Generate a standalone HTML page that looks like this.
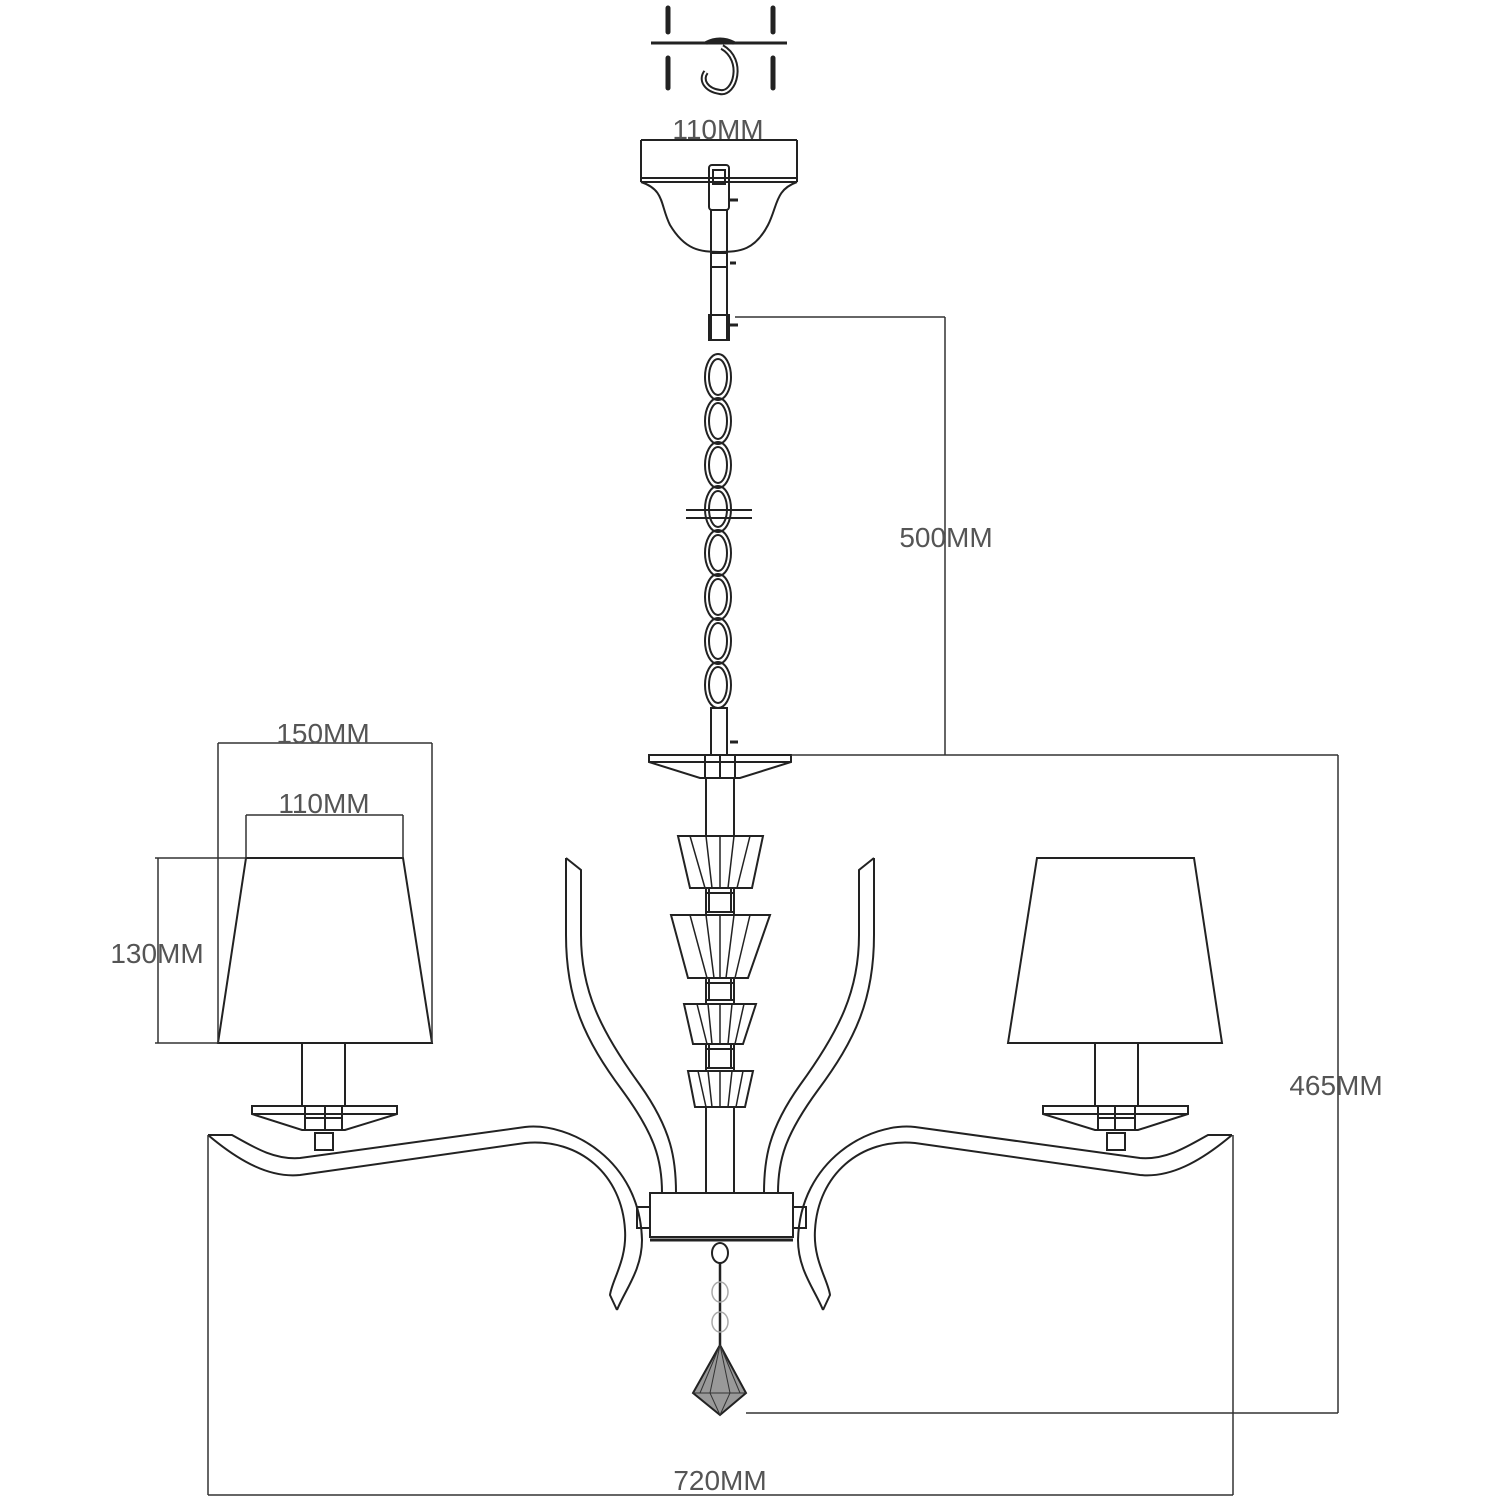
<!DOCTYPE html>
<html><head><style>html,body{margin:0;padding:0;background:#fff}svg{display:block}</style></head>
<body>
<svg width="1500" height="1500" viewBox="0 0 1500 1500" xmlns="http://www.w3.org/2000/svg">
<rect width="1500" height="1500" fill="#fff"/>
<g fill="none" stroke="#222" stroke-width="2">
<!-- screws -->
<g stroke-width="5" stroke-linecap="round">
<line x1="668" y1="8" x2="668" y2="32"/><line x1="773" y1="8" x2="773" y2="32"/>
<line x1="668" y1="58" x2="668" y2="88"/><line x1="773" y1="58" x2="773" y2="88"/>
</g>
<line x1="651" y1="43" x2="787" y2="43" stroke-width="3"/>
<path d="M706,43 Q720,36 734,43" stroke-width="4"/>
<path d="M722,47 C745,60 735,95 720,92 C706,90 700,80 706,72" stroke-width="6"/>
<path d="M722,47 C745,60 735,95 720,92 C706,90 700,80 706,72" stroke="#fff" stroke-width="2"/>
<!-- canopy -->
<line x1="641" y1="140" x2="797" y2="140"/>
<line x1="641" y1="140" x2="641" y2="182"/><line x1="797" y1="140" x2="797" y2="182"/>
<line x1="641" y1="178" x2="797" y2="178"/><line x1="641" y1="182" x2="797" y2="182"/>
<path d="M641,182 C665,190 660,205 670,225 C685,250 700,252 720,252 C740,252 755,250 768,225 C778,205 775,190 797,182"/>
<!-- stem top -->
<rect x="709" y="165" width="20" height="45" rx="3"/>
<rect x="713" y="170" width="12" height="14"/>
<line x1="711" y1="210" x2="711" y2="340"/><line x1="727" y1="210" x2="727" y2="340"/>
<rect x="711" y="253" width="16" height="14"/>
<rect x="709" y="315" width="20" height="25"/>
<g stroke-width="3"><line x1="730" y1="200" x2="738" y2="200"/><line x1="730" y1="263" x2="736" y2="263"/><line x1="730" y1="325" x2="738" y2="325"/><line x1="730" y1="742" x2="738" y2="742"/></g>
<!-- chain -->
<g stroke-width="2">
<ellipse cx="718" cy="377" rx="13" ry="23"/><ellipse cx="718" cy="377" rx="9" ry="18"/>
<ellipse cx="718" cy="421" rx="13" ry="23"/><ellipse cx="718" cy="421" rx="9" ry="18"/>
<ellipse cx="718" cy="465" rx="13" ry="23"/><ellipse cx="718" cy="465" rx="9" ry="18"/>
<ellipse cx="718" cy="509" rx="13" ry="23"/><ellipse cx="718" cy="509" rx="9" ry="18"/>
<ellipse cx="718" cy="553" rx="13" ry="23"/><ellipse cx="718" cy="553" rx="9" ry="18"/>
<ellipse cx="718" cy="597" rx="13" ry="23"/><ellipse cx="718" cy="597" rx="9" ry="18"/>
<ellipse cx="718" cy="641" rx="13" ry="23"/><ellipse cx="718" cy="641" rx="9" ry="18"/>
<ellipse cx="718" cy="685" rx="13" ry="23"/><ellipse cx="718" cy="685" rx="9" ry="18"/>
</g>
<line x1="686" y1="510" x2="752" y2="510"/><line x1="686" y1="518" x2="752" y2="518"/>
<rect x="711" y="708" width="16" height="47"/>
<!-- plate -->
<path d="M649,755 L791,755 L791,762 L740,778 L700,778 L649,762 Z"/>
<line x1="649" y1="762" x2="791" y2="762"/>
<line x1="705" y1="755" x2="705" y2="778"/><line x1="735" y1="755" x2="735" y2="778"/><line x1="720" y1="755" x2="720" y2="778"/>
<!-- stem lower -->
<line x1="706" y1="778" x2="706" y2="1193"/><line x1="734" y1="778" x2="734" y2="1193"/>
<!-- crystals -->
<g fill="#fff">
<path d="M678,836 L763,836 L752,888 L690,888 Z"/>
<path d="M671,915 L770,915 L748,978 L688,978 Z"/>
<path d="M684,1004 L756,1004 L743,1044 L693,1044 Z"/>
<path d="M688,1071 L753,1071 L745,1107 L695,1107 Z"/>
</g>
<g stroke-width="1.5">
<path d="M690,836 L705,888 M706,836 L712,888 M720,836 L720,888 M734,836 L728,888 M750,836 L737,888"/>
<path d="M690,915 L707,978 M706,915 L714,978 M720,915 L720,978 M734,915 L726,978 M750,915 L735,978"/>
<path d="M697,1004 L707,1044 M708,1004 L712,1044 M720,1004 L720,1044 M732,1004 L728,1044 M744,1004 L735,1044"/>
<path d="M698,1071 L706,1107 M708,1071 L712,1107 M720,1071 L720,1107 M732,1071 L728,1107 M743,1071 L736,1107"/>
</g>
<path d="M709,888 L709,912 M731,888 L731,912 M707,893 L733,893 M707,912 L733,912"/>
<path d="M709,978 L709,1000 M731,978 L731,1000 M707,983 L733,983 M707,1000 L733,1000"/>
<path d="M709,1044 L709,1068 M731,1044 L731,1068 M707,1049 L733,1049 M707,1068 L733,1068"/>
<!-- body -->
<rect x="650" y="1193" width="143" height="44" fill="#fff"/>
<line x1="650" y1="1240" x2="793" y2="1240" stroke-width="3"/>
<rect x="637" y="1207" width="13" height="21"/><rect x="793" y="1207" width="13" height="21"/>
<!-- pendant -->
<ellipse cx="720" cy="1253" rx="8" ry="10"/>
<line x1="720" y1="1263" x2="720" y2="1345" stroke-width="2.5"/>
<ellipse cx="720" cy="1292" rx="8" ry="10" stroke="#aaa" stroke-width="1.5"/>
<ellipse cx="720" cy="1322" rx="8" ry="10" stroke="#aaa" stroke-width="1.5"/>
<path d="M720,1345 L746,1393 L720,1415 L693,1393 Z" fill="#999" stroke="#222"/>
<path d="M720,1345 L710,1393 L720,1415 L730,1393 Z M720,1345 L700,1393 M720,1345 L740,1393 M693,1393 L746,1393" stroke="#333" stroke-width="1"/>
</g>

<!-- left arm + shade, mirrored for right -->
<g id="side" fill="none" stroke="#222" stroke-width="2">
<!-- vertical S arm -->
<path d="M566,858 L581,870 L581,935 C581,990 600,1030 640,1085 C672,1130 676,1160 676,1193"/>
<path d="M566,858 L566,935 C566,1000 585,1040 622,1090 C655,1135 662,1160 662,1193"/>
<!-- horizontal arm -->
<path d="M208,1135 L232,1135 C255,1148 275,1160 300,1158 L525,1127 C570,1122 640,1160 642,1240 C642,1270 625,1290 617,1310"/>
<path d="M208,1135 C240,1162 270,1178 300,1175 L525,1143 C580,1138 622,1175 625,1230 C627,1260 612,1280 610,1295 L617,1310"/>
<!-- shade -->
<path d="M246,858 L403,858 L432,1043 L218,1043 Z"/>
<line x1="302" y1="1043" x2="302" y2="1106"/><line x1="345" y1="1043" x2="345" y2="1106"/>
<path d="M252,1106 L397,1106 L397,1114 L345,1130 L302,1130 L252,1114 Z"/>
<line x1="252" y1="1114" x2="397" y2="1114"/>
<path d="M305,1106 L305,1130 M342,1106 L342,1130 M325,1106 L325,1130 M305,1118 L342,1118"/>
<rect x="315" y="1133" width="18" height="17"/>
</g>
<use href="#side" transform="translate(1440,0) scale(-1,1)"/>

<!-- dimension lines -->
<g fill="none" stroke="#333" stroke-width="1.5">
<line x1="735" y1="317" x2="945" y2="317"/>
<line x1="945" y1="317" x2="945" y2="755"/>
<line x1="791" y1="755" x2="1338" y2="755"/>
<line x1="1338" y1="755" x2="1338" y2="1413"/>
<line x1="746" y1="1413" x2="1338" y2="1413"/>
<line x1="218" y1="743" x2="432" y2="743"/>
<line x1="218" y1="743" x2="218" y2="1043"/><line x1="432" y1="743" x2="432" y2="1043"/>
<line x1="246" y1="815" x2="403" y2="815"/>
<line x1="246" y1="815" x2="246" y2="858"/><line x1="403" y1="815" x2="403" y2="858"/>
<line x1="158" y1="858" x2="158" y2="1043"/>
<line x1="155" y1="858" x2="246" y2="858"/><line x1="155" y1="1043" x2="218" y2="1043"/>
<line x1="208" y1="1135" x2="208" y2="1495"/><line x1="1233" y1="1135" x2="1233" y2="1495"/>
<line x1="208" y1="1495" x2="1233" y2="1495"/>
</g>
<g font-family="Liberation Sans, sans-serif" font-size="28" fill="#555" text-anchor="middle">
<text x="718" y="139">110MM</text>
<text x="946" y="547">500MM</text>
<text x="323" y="743">150MM</text>
<text x="324" y="813">110MM</text>
<text x="157" y="963">130MM</text>
<text x="1336" y="1095">465MM</text>
<text x="720" y="1490">720MM</text>
</g>
</svg>
</body></html>
